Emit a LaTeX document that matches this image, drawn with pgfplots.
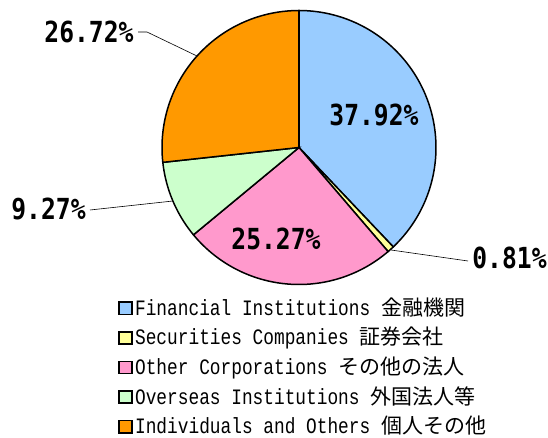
\documentclass[border=0pt]{standalone}
\usepackage{pgfplots}
\usepackage{pgfplotstable}
\pgfplotsset{compat=1.18}
\usepackage{fontspec}
\newfontfamily\legfont[FakeStretch=0.81]{Liberation Mono}
\newfontfamily\jp{Noto Sans CJK JP}
\newfontfamily\pctfont[FakeStretch=0.85]{DejaVu Sans Mono}
\definecolor{cFI}{HTML}{99CCFF}
\definecolor{cSC}{HTML}{FFFF99}
\definecolor{cOC}{HTML}{FF99CC}
\definecolor{cOI}{HTML}{CCFFCC}
\definecolor{cIO}{HTML}{FF9900}
\pgfplotstableread{
key pct
FI 37.92
SC 0.81
OC 25.27
OI 9.27
IO 26.72
}\pietable
\newcommand\jpt[1]{{\jp\fontsize{21bp}{26bp}\selectfont #1}}
\begin{document}
\begin{tikzpicture}
\path[use as bounding box] (0,0) rectangle (548bp,438bp);
\pgfplotstablegetelem{0}{pct}\of\pietable\let\pA\pgfplotsretval
\pgfplotstablegetelem{1}{pct}\of\pietable\let\pB\pgfplotsretval
\pgfplotstablegetelem{2}{pct}\of\pietable\let\pC\pgfplotsretval
\pgfplotstablegetelem{3}{pct}\of\pietable\let\pD\pgfplotsretval
\pgfplotstablegetelem{4}{pct}\of\pietable\let\pE\pgfplotsretval
\pgfmathsetmacro\tA{90}
\pgfmathsetmacro\tB{\tA-3.6*\pA}
\pgfmathsetmacro\tC{\tB-3.6*\pB}
\pgfmathsetmacro\tD{\tC-3.6*\pC}
\pgfmathsetmacro\tE{\tD-3.6*\pD}
\pgfmathsetmacro\tF{\tE-3.6*\pE}
\def\cx{299}\def\cy{290.5}\def\R{137}
\begin{axis}[
  x=1bp, y=1bp, disabledatascaling, scale only axis,
  anchor=south west, at={(0,0)},
  xmin=0, xmax=548, ymin=0, ymax=438,
  hide axis, clip=false,
  legend cell align=left,
  legend image code/.code={\draw[#1, draw=black, line width=1.6bp] (0.8bp,-4.6bp) rectangle (13.6bp,7.6bp);},
  legend style={at={(axis cs:118,138)}, anchor=north west, draw=none, fill=none,
    inner sep=0pt, row sep=10.6bp,
    font=\fontsize{22bp}{26bp}\legfont,
    nodes={inner sep=0pt, text height=15bp, text depth=4bp},
    /tikz/every odd column/.append style={column sep=2.5bp}},
]
\addplot[fill=cFI, draw=black, line width=1.5bp, domain=\tB:\tA, samples=90, variable=\t]
  ({\cx+\R*cos(\t)},{\cy+\R*sin(\t)}) -- (axis cs:\cx,\cy) -- cycle;
\addlegendentry{Financial Institutions \jpt{金融機関}}
\addplot[fill=cSC, draw=black, line width=1.5bp, domain=\tC:\tB, samples=5, variable=\t]
  ({\cx+\R*cos(\t)},{\cy+\R*sin(\t)}) -- (axis cs:\cx,\cy) -- cycle;
\addlegendentry{Securities Companies \jpt{証券会社}}
\addplot[fill=cOC, draw=black, line width=1.5bp, domain=\tD:\tC, samples=70, variable=\t]
  ({\cx+\R*cos(\t)},{\cy+\R*sin(\t)}) -- (axis cs:\cx,\cy) -- cycle;
\addlegendentry{Other Corporations \jpt{その他の法人}}
\addplot[fill=cOI, draw=black, line width=1.5bp, domain=\tE:\tD, samples=30, variable=\t]
  ({\cx+\R*cos(\t)},{\cy+\R*sin(\t)}) -- (axis cs:\cx,\cy) -- cycle;
\addlegendentry{Overseas Institutions \jpt{外国法人等}}
\addplot[fill=cIO, draw=black, line width=1.5bp, domain=\tF:\tE, samples=70, variable=\t]
  ({\cx+\R*cos(\t)},{\cy+\R*sin(\t)}) -- (axis cs:\cx,\cy) -- cycle;
\addlegendentry{Individuals and Others \jpt{個人その他}}
% leader lines
\addplot[black, line width=0.6bp, forget plot] coordinates {(138,406) (147,406) (197,382)};
\addplot[black, line width=0.6bp, forget plot] coordinates {(90,228) (173,237)};
\addplot[black, line width=0.6bp, forget plot] coordinates {(391,188) (468,177)};
% value labels
\node[font=\fontsize{29bp}{32bp}\pctfont\bfseries, inner sep=0pt] at (axis cs:374,323) {37.92\%};
\node[font=\fontsize{29bp}{32bp}\pctfont\bfseries, inner sep=0pt] at (axis cs:276,199) {25.27\%};
\node[font=\fontsize{29bp}{32bp}\pctfont\bfseries, inner sep=0pt] at (axis cs:89,406) {26.72\%};
\node[font=\fontsize{29bp}{32bp}\pctfont\bfseries, inner sep=0pt] at (axis cs:48.5,229) {9.27\%};
\node[font=\fontsize{29bp}{32bp}\pctfont\bfseries, inner sep=0pt] at (axis cs:509.5,180) {0.81\%};
\end{axis}
\end{tikzpicture}
\end{document}
